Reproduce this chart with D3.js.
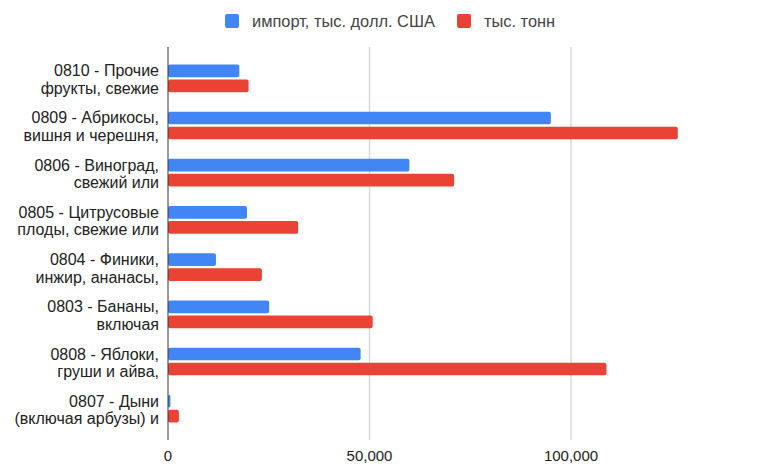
<!DOCTYPE html>
<html>
<head>
<meta charset="utf-8">
<script src="https://cdn.jsdelivr.net/npm/d3@7"></script>
<style>
  html, body { margin: 0; padding: 0; background: #fff; }
  svg { display: block; font-family: "Liberation Sans", Arial, sans-serif; }
</style>
</head>
<body>
<svg id="chart" width="761" height="464"></svg>
<script>
// Fruit import groups (HS codes), two label lines each
const categories = [
  "0810 - Прочие|фрукты, свежие",
  "0809 - Абрикосы,|вишня и черешня,",
  "0806 - Виноград,|свежий или",
  "0805 - Цитрусовые|плоды, свежие или",
  "0804 - Финики,|инжир, ананасы,",
  "0803 - Бананы,|включая",
  "0808 - Яблоки,|груши и айва,",
  "0807 - Дыни|(включая арбузы) и"
];
const seriesNames = ["импорт, тыс. долл. США", "тыс. тонн"];
const importValues = [17700, 95000, 59900, 19600, 11900, 25100, 47800, 600];
const tonnesValues = [20000, 126500, 71000, 32300, 23300, 50800, 108800, 2700];
const xTicks = [0, 50000, 100000];
const xTickLabels = ["0", "50,000", "100,000"];
const colors = ["#4285f4", "#ea4335"];

const svg = d3.select("#chart");
const plotTop = 47, plotBottom = 440, plotLeft = 168;

const x = d3.scaleLinear().domain([0, 100000]).range([plotLeft, 571]);
const y = d3.scaleBand().domain(categories).range([plotTop, plotBottom])
  .paddingInner(0).paddingOuter(0.163);
const yInner = d3.scaleBand().domain(seriesNames).range([-13.85, 13.85])
  .paddingInner(0.153);

const rows = categories.map((c, i) => ({ cat: c, vals: [importValues[i], tonnesValues[i]] }));

// vertical gridlines
svg.append("g").selectAll("line").data(xTicks.slice(1)).join("line")
  .attr("x1", d => x(d)).attr("x2", d => x(d))
  .attr("y1", plotTop).attr("y2", plotBottom)
  .attr("stroke", "#d9d9d9").attr("stroke-width", 1.5);

// bars
const groups = svg.append("g").selectAll("g").data(rows).join("g")
  .attr("transform", d => `translate(0,${y(d.cat) + y.bandwidth() / 2})`);
groups.selectAll("rect").data(d => d.vals.map((v, k) => ({ v, k }))).join("rect")
  .attr("x", x(0))
  .attr("y", d => yInner(seriesNames[d.k]))
  .attr("width", d => x(d.v) - x(0))
  .attr("height", yInner.bandwidth())
  .attr("rx", 2)
  .attr("fill", d => colors[d.k]);

// baseline axis
svg.append("line")
  .attr("x1", x(0)).attr("x2", x(0))
  .attr("y1", plotTop).attr("y2", plotBottom)
  .attr("stroke", "#333").attr("stroke-width", 1);

// category labels
const lab = svg.append("g").selectAll("text").data(categories).join("text")
  .attr("text-anchor", "end")
  .attr("font-size", 16)
  .attr("fill", "#222");
lab.each(function (d) {
  const c = y(d) + y.bandwidth() / 2;
  const parts = d.split("|");
  d3.select(this).selectAll("tspan").data(parts).join("tspan")
    .attr("x", 159)
    .attr("y", (p, j) => j === 0 ? c - 2 : c + 15.5)
    .text(p => p);
});

// x tick labels
svg.append("g").selectAll("text").data(xTicks).join("text")
  .attr("x", d => x(d)).attr("y", 461)
  .attr("text-anchor", "middle")
  .attr("font-size", 15)
  .attr("fill", "#222")
  .text((d, i) => xTickLabels[i]);

// legend
const legendItems = [
  { name: seriesNames[0], color: colors[0], x: 225 },
  { name: seriesNames[1], color: colors[1], x: 457 }
];
const lg = svg.append("g").selectAll("g").data(legendItems).join("g")
  .attr("transform", d => `translate(${d.x},0)`);
lg.append("rect").attr("x", 0).attr("y", 14).attr("width", 14).attr("height", 14)
  .attr("rx", 2).attr("fill", d => d.color);
lg.append("text").attr("x", 27).attr("y", 27)
  .attr("font-size", 16.4).attr("fill", "#444")
  .text(d => d.name);
</script>
</body>
</html>
